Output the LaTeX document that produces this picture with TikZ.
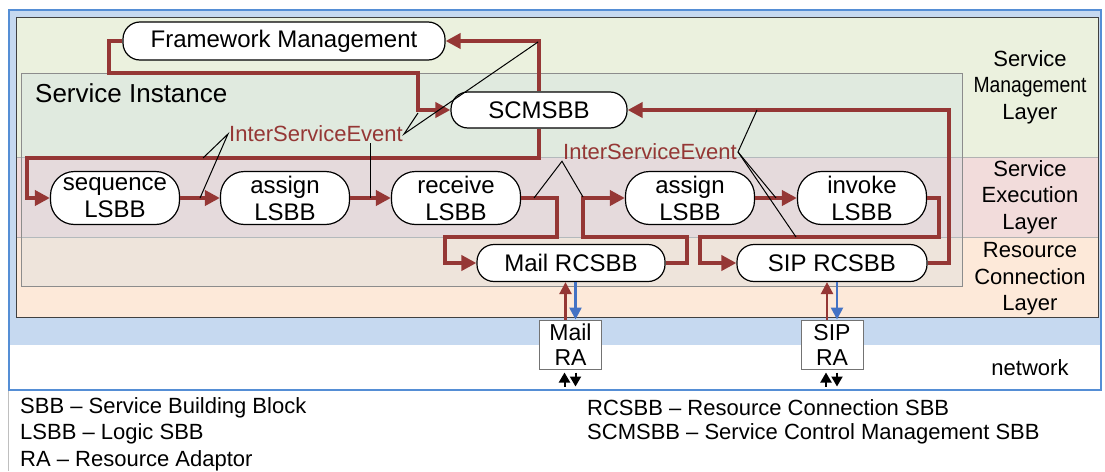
\documentclass[tikz,border=0pt]{standalone}
\usepackage{xcolor,tikz,graphicx,fontspec}
\setmainfont{Liberation Sans}
\usetikzlibrary{arrows.meta,positioning,calc}
\definecolor{frameblue}{RGB}{85,142,213}
\definecolor{netblue}{RGB}{198,217,240}
\definecolor{mgmt}{RGB}{235,241,222}
\definecolor{exec}{RGB}{242,220,219}
\definecolor{conn}{RGB}{253,233,217}
\definecolor{inst}{RGB}{185,212,228}
\definecolor{flowred}{RGB}{149,55,53}
\definecolor{rablue}{RGB}{68,114,196}
\newcommand{\fsz}[2]{\fontsize{#1}{#2}\selectfont}
\tikzset{
  sbb/.style={draw=black,fill=white,line width=1.2pt,rounded corners=17pt,minimum height=37pt,inner sep=0pt,align=center,font=\fsz{24}{27}},
  lsbb/.style={sbb,minimum width=129pt,minimum height=53pt,rounded corners=24pt},
  ra/.style={draw=black!55,fill=white,line width=1pt,minimum width=62pt,minimum height=49pt,inner sep=0pt,align=center,font=\fsz{23}{25}},
  flow/.style={-{Triangle[length=15pt,width=15pt]},line width=4pt,draw=flowred},
  raup/.style={-{Triangle[length=12pt,width=12pt]},line width=2.5pt,draw=flowred},
  radown/.style={-{Triangle[length=12pt,width=12pt]},line width=2.5pt,draw=rablue},
  netarr/.style={-{Triangle[length=10pt,width=11pt]},line width=2pt,draw=black},
  call/.style={line width=1pt,draw=black},
  evt/.style={font=\fsz{22}{22},text=flowred,inner sep=1pt},
  lay/.style={font=\fsz{22}{26.5},align=center,inner sep=0pt},
  leg/.style={font=\fsz{22}{22},anchor=west,inner sep=0pt},
  layer/.style={draw=black!30,line width=.8pt}
}
\begin{document}
\begin{tikzpicture}[x=1pt,y=-1pt]
  \useasboundingbox (0,0) rectangle (1105,471);
  \fill[netblue] (10,10) rectangle (1100,345);
  \draw[frameblue,line width=2pt] (9,10) rectangle (1101,390);
  \draw[black!25,line width=.8pt] (8,391) -- (8,471);

  \filldraw[layer,fill=mgmt] (16,17) rectangle (1098,157);
  \filldraw[layer,fill=exec] (16,157) rectangle (1098,237);
  \filldraw[layer,fill=conn] (16,237) rectangle (1098,317);
  \draw[black!75,line width=1pt] (16,17) rectangle (1098,317);
  \draw[black!45,line width=.8pt,fill=inst,fill opacity=.22] (21,73) rectangle (962,286);
  \node[font=\fsz{26}{26},anchor=west,inner sep=0pt] (si) at (35,93) {Service Instance};

  \node[lay] (lsm) at (1030,87) {Service\\\scalebox{.88}[1]{Management}\\Layer};
  \node[lay] (lse) at (1030,197) {Service\\Execution\\Layer};
  \node[lay] (lrc) at (1030,279) {Resource\\Connection\\Layer};
  \node[lay] (lnet) at (1030,368) {network};

  \node[sbb,minimum width=322pt,minimum height=38pt] (fm) at (284,41) {Framework Management};
  \node[sbb,minimum width=176pt,minimum height=36pt] (scm) at (539,110) {SCMSBB};
  \foreach \n/\x/\t in {seq/115/sequence,as1/285/assign,rcv/456/receive,as2/690/assign,inv/862/invoke}{
    \node[lsbb] (\n) at (\x,198) {\t\\LSBB};
  }
  \node[sbb,minimum width=188pt] (mrc) at (571,263) {Mail RCSBB};
  \node[sbb,minimum width=190pt] (src) at (832,263) {SIP RCSBB};
  \node[ra] (mra) at (570.5,344.5) {Mail\\RA};
  \node[ra] (sra) at (832,344.5) {SIP\\RA};

  \draw[flow] (scm.north) |- (fm.east);
  \draw[flow] (fm.west) -- ++(-13,0) |- (418,73) |- (scm.west);
  \draw[flow] (scm.south) |- (27,158) |- (seq.west);
  \draw[flow] (seq.east) -- (as1.west);
  \draw[flow] (as1.east) -- (rcv.west);
  \draw[flow] (rcv.east) -- ++(36,0) |- (445,237) |- (mrc.west);
  \draw[flow] (mrc.east) -- ++(21,0) |- (583,237) |- (as2.west);
  \draw[flow] (as2.east) -- (inv.west);
  \draw[flow] (inv.east) -- ++(12,0) |- (700,237) |- (src.west);
  \draw[flow] (src.east) -- ++(21,0) |- (scm.east);

  \foreach \r/\c in {mra/mrc,sra/src}{
    \draw[raup] ($(\r.north)+(-5,0)$) -- ($(\c.south -| \r.north)+(-5,0)$);
    \draw[radown] ($(\c.south -| \r.north)+(5,0)$) -- ($(\r.north)+(5,0)$);
    \draw[netarr] ($(\r.south)+(-6,17)$) -- ($(\r.south)+(-6,3)$);
    \draw[netarr] ($(\r.south)+(5,3)$) -- ($(\r.south)+(5,17)$);
  }

  \node[evt] (ise1) at (316,134) {InterServiceEvent};
  \node[evt] (ise2) at (650,152) {InterServiceEvent};
  \coordinate (m1) at ($(seq.east)!.5!(as1.west)$);
  \coordinate (m2) at ($(as1.east)!.5!(rcv.west)$);
  \coordinate (m3) at ($(as2.east)!.5!(inv.west)$);
  \coordinate (k1) at (203,158);
  \coordinate (k2) at (418,113);
  \coordinate (k3) at (538,42);
  \coordinate (k4) at (534,198);
  \coordinate (k5) at (583,197);
  \coordinate (k6) at (757,110);
  \coordinate (k7) at (796,237);
  \draw[call] (k1) -- (ise1.west) -- (m1);
  \draw[call] (k2) -- (ise1.east) -- (k3);
  \draw[call] (ise1.south -| m2) -- (m2);
  \draw[call] (k4) -- (ise2.south west) -- (k5);
  \draw[call] (k6) -- (ise2.east) -- (m3);
  \draw[call] (ise2.east) -- (k7);

  \foreach \t [count=\i] in {SBB – Service Building Block,LSBB – Logic SBB,RA – Resource Adaptor}{
    \node[leg] (legl\i) at (20,381+26.5*\i) {\t};
  }
  \node[leg] (legr1) at (587,408) {RCSBB – Resource Connection SBB};
  \node[leg] (legr2) at (587,434) {SCMSBB – Service Control Management SBB};
\end{tikzpicture}
\end{document}
